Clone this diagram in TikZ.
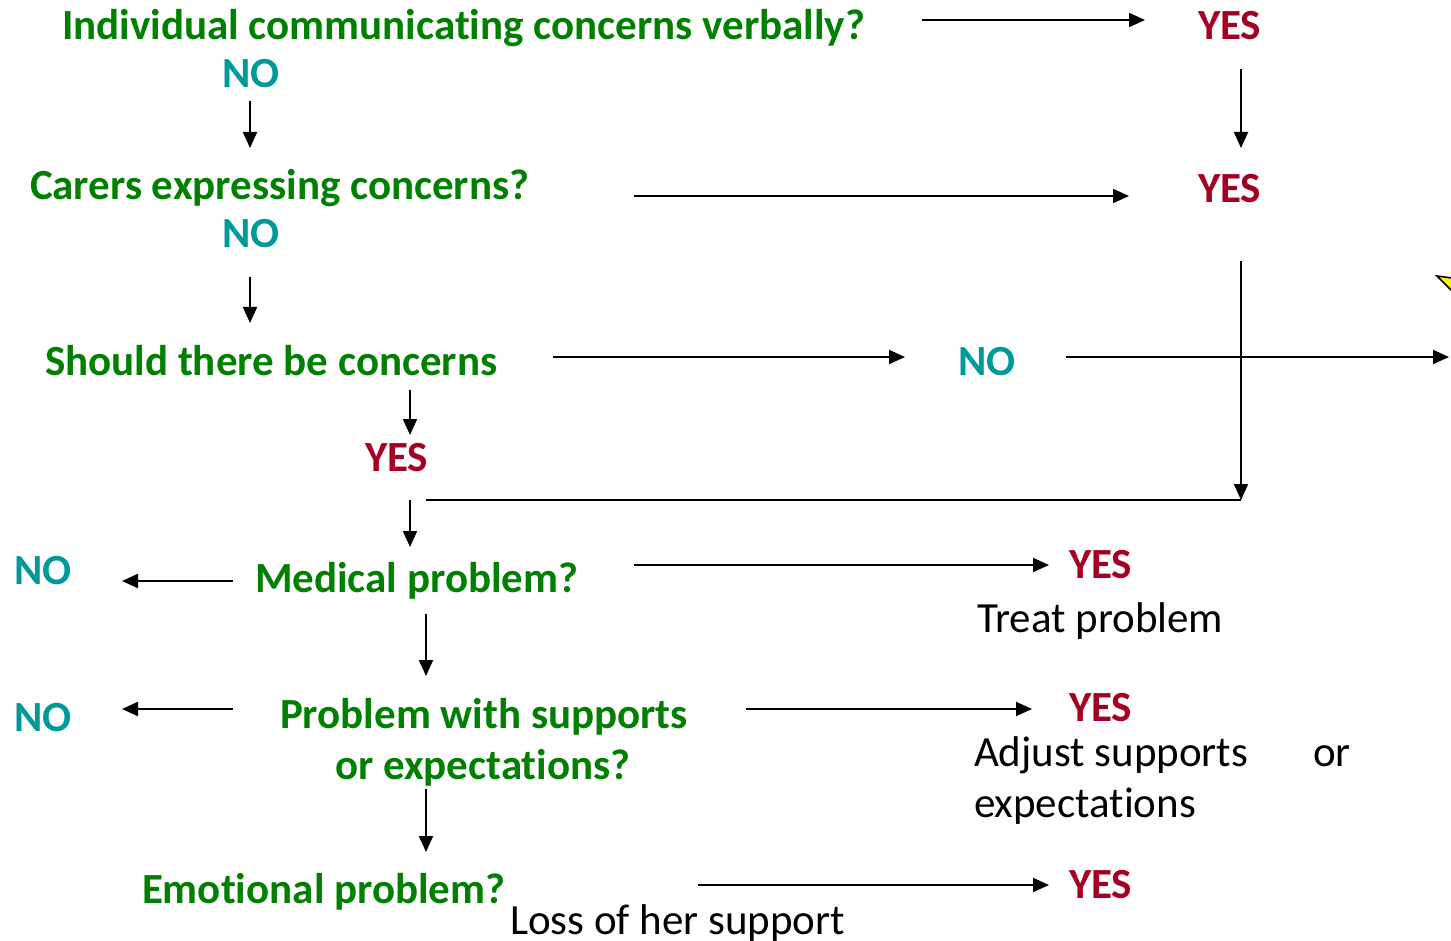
\documentclass[tikz,border=0pt]{standalone}
\usepackage{fontspec}
\setmainfont[Ligatures=NoCommon,RawFeature={-liga;-clig}]{Carlito}
\usetikzlibrary{arrows.meta}
\definecolor{qgreen}{RGB}{0,128,0}
\definecolor{qteal}{RGB}{0,153,153}
\definecolor{qred}{RGB}{165,0,33}
\tikzset{
  txt/.style={anchor=base west,inner sep=0pt,outer sep=0pt,yshift=-1pt,font=\fontsize{43}{50}\selectfont},
  qtxt/.style={txt,text=qgreen,font=\fontsize{43}{50}\selectfont\bfseries},
  notxt/.style={txt,text=qteal,font=\fontsize{43}{50}\selectfont\bfseries},
  yestxt/.style={txt,text=qred,font=\fontsize{43}{50}\selectfont\bfseries},
  plain/.style={txt,text=black},
  arr/.style={line width=2pt,-{Triangle[length=16pt,width=14pt]}},
  ln/.style={line width=2pt}
}
\begin{document}
\begin{tikzpicture}[x=1pt,y=-1pt]
\useasboundingbox (0,0) rectangle (1451,941);
% texts
\node[qtxt] (q1) at (62,39) {Individual communicat\kern0pt ing concerns verbally?};
\node[notxt] (n1) at (222,87) {NO};
\node[yestxt] (y1) at (1198,39) {YES};
\node[qtxt] (q2) at (30,199) {Carers expressing concerns?};
\node[notxt] (n2) at (222,247) {NO};
\node[yestxt] (y2) at (1198,202) {YES};
\node[qtxt] (q3) at (45,374) {Should there be concerns};
\node[notxt] (n3) at (958,374) {NO};
\node[yestxt] (y3) at (365,470) {YES};
\node[qtxt] (q4) at (255,591) {Medical problem?};
\node[notxt] (n4) at (14,583) {NO};
\node[yestxt] (y4) at (1069,577) {YES};
\node[plain] (t4) at (977,631) {Treat problem};
\node[qtxt] (q5a) at (280,727) {Problem with supports};
\node[qtxt] (q5b) at (335,778) {or expectations?};
\node[notxt] (n5) at (14,730) {NO};
\node[yestxt] (y5) at (1069,720) {YES};
\node[plain] (t5a) at (974,765) {Adjust supports};
\node[plain] (t5o) at (1313,765) {or};
\node[plain] (t5b) at (974,816) {expectations};
\node[qtxt] (q6) at (142,902) {Emotional problem?};
\node[yestxt] (y6) at (1069,897) {YES};
\node[plain] (t6) at (510,933) {Loss of her support};
% connector points
\coordinate (a1s) at (922,20); \coordinate (a1e) at (1145,20);
\coordinate (a2s) at (250,101); \coordinate (a2e) at (250,148);
\coordinate (a3s) at (1241,69); \coordinate (a3e) at (1241,148);
\coordinate (a4s) at (634,196); \coordinate (a4e) at (1129,196);
\coordinate (a5s) at (250,277); \coordinate (a5e) at (250,323);
\coordinate (a6s) at (553,357); \coordinate (a6e) at (905,357);
\coordinate (a7s) at (1066,357); \coordinate (a7e) at (1449,357);
\coordinate (a8s) at (1241,261); \coordinate (a8e) at (1241,500);
\coordinate (a9s) at (410,390); \coordinate (a9e) at (410,435);
\coordinate (j1) at (426,500);
\coordinate (a10s) at (410,500); \coordinate (a10e) at (410,547);
\coordinate (a11s) at (634,565); \coordinate (a11e) at (1049,565);
\coordinate (a12s) at (233,581); \coordinate (a12e) at (122,581);
\coordinate (a13s) at (426,614); \coordinate (a13e) at (426,676);
\coordinate (a14s) at (233,709); \coordinate (a14e) at (122,709);
\coordinate (a15s) at (746,709); \coordinate (a15e) at (1032,709);
\coordinate (a16s) at (426,789); \coordinate (a16e) at (426,852);
\coordinate (a17s) at (698,885); \coordinate (a17e) at (1049,885);
% connectors
\draw[arr] (a1s) -- (a1e);
\draw[arr] (a2s) -- (a2e);
\draw[arr] (a3s) -- (a3e);
\draw[arr] (a4s) -- (a4e);
\draw[arr] (a5s) -- (a5e);
\draw[arr] (a6s) -- (a6e);
\draw[arr] (a7s) -- (a7e);
\draw[arr] (a8s) -- (a8e);
\draw[arr] (a9s) -- (a9e);
\draw[ln] (j1) -- (a8e);
\draw[arr] (a10s) -- (a10e);
\draw[arr] (a11s) -- (a11e);
\draw[arr] (a12s) -- (a12e);
\draw[arr] (a13s) -- (a13e);
\draw[arr] (a14s) -- (a14e);
\draw[arr] (a15s) -- (a15e);
\draw[arr] (a16s) -- (a16e);
\draw[arr] (a17s) -- (a17e);
% yellow shape at edge
\draw[fill=yellow,line width=1.5pt] (1437,276) -- (1452,278) -- (1452,291) -- cycle;
\end{tikzpicture}
\end{document}
